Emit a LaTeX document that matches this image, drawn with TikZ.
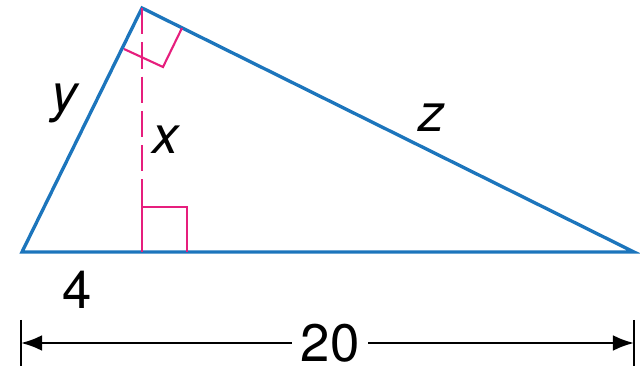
\documentclass[tikz,border=0pt]{standalone}
\usepackage{fontspec}
\setmainfont{TeX Gyre Heros}
\usetikzlibrary{arrows.meta}

\definecolor{sideblue}{RGB}{28,117,188}
\definecolor{markpink}{RGB}{230,30,125}

\tikzset{
  side/.style={sideblue, line width=1.9pt, line join=miter},
  altitude/.style={markpink, line width=1.2pt, dash pattern=on 15pt off 4.5pt},
  rightmark/.style={markpink, line width=1.2pt},
  dimline/.style={black, line width=1.3pt},
  lbl/.style={font=\fontsize{30}{34}\selectfont, inner sep=0pt}
}

\begin{document}
\begin{tikzpicture}[x=0.02cm, y=-0.02cm]
        \useasboundingbox (0,0) rectangle (640,368);
        % Triangle
        \coordinate (A) at (22,252);
        \coordinate (B) at (142,8);
        \coordinate (C) at (634,252);
        \coordinate (D) at (142,252);
        \draw[side] (A) -- (B) -- (C) -- cycle;

        % Altitude and right angles
        \draw[altitude] (B) -- (142,207);
        \draw[rightmark] (D) -- (142,207) -- (187,207) -- (187,252);
        \draw[rightmark] (124,49) -- (163,67) -- (182,28);

        % Labels
        \node[lbl] (ly) at (65,103) {\itshape y};
        \node[lbl] (lx) at (166,140) {\itshape x};
        \node[lbl] (lz) at (432,118) {\itshape z};
        \node[lbl] (l4) at (77,290) {4};

        % Dimension
        \coordinate (L) at (21,343);
        \coordinate (R) at (634,343);
        \draw[dimline] (21,320) -- (21,366);
        \draw[dimline] (634,320) -- (634,366);
        \node[lbl, inner xsep=5pt] (l20) at (330,343) {20};
        \draw[dimline, -{Latex[length=12pt,width=9pt]}] (l20) -- (L);
        \draw[dimline, -{Latex[length=12pt,width=9pt]}] (l20) -- (R);
\end{tikzpicture}
\end{document}
